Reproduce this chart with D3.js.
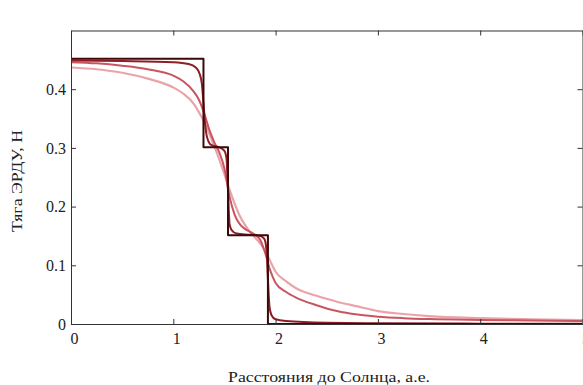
<!DOCTYPE html>
<html>
<head>
<meta charset="utf-8">
<script src="https://cdn.jsdelivr.net/npm/d3@7"></script>
<style>
  body { margin: 0; background: #fff; }
  svg { display: block; }
  text { font-family: "Liberation Serif", "Tinos", "DejaVu Serif", "Noto Serif", serif; }
</style>
</head>
<body>
<div id="chart"></div>
<script>
// data
const xTicks = [0, 1, 2, 3, 4, 5];
const yTicks = [0, 0.1, 0.2, 0.3, 0.4];

// ideal step profile
const stepX = [0, 1.295, 1.295, 1.535, 1.535, 1.925, 1.925, 5];
const stepY = [0.452, 0.452, 0.301, 0.301, 0.151, 0.151, 0.0, 0.0];

// slightly smoothed
const sharpX = [0, 0.5, 1.0, 1.15, 1.22, 1.26, 1.28, 1.295, 1.31, 1.33, 1.37, 1.45, 1.5, 1.52, 1.535, 1.55, 1.57, 1.62, 1.75, 1.85, 1.89, 1.91, 1.925, 1.94, 1.96, 2.0, 2.1, 2.5, 3.0, 4.0, 5.0];
const sharpY = [0.449, 0.448, 0.446, 0.443, 0.437, 0.425, 0.408, 0.376, 0.343, 0.318, 0.305, 0.301, 0.295, 0.282, 0.226, 0.17, 0.16, 0.154, 0.152, 0.150, 0.145, 0.128, 0.076, 0.03, 0.015, 0.008, 0.005, 0.002, 0.0012, 0.0006, 0.0004];

// smoother curves share one grid
const gridX = [0, 0.25, 0.5, 0.75, 1.0, 1.1, 1.2, 1.25, 1.3, 1.35, 1.4, 1.45, 1.5, 1.55, 1.6, 1.65, 1.7, 1.75, 1.8, 1.85, 1.9, 1.95, 2.0, 2.1, 2.2, 2.4, 2.6, 2.8, 3.0, 3.25, 3.5, 4.0, 4.5, 5.0];
const mediumY = [0.446, 0.444, 0.440, 0.434, 0.423, 0.413, 0.396, 0.382, 0.36, 0.332, 0.31, 0.292, 0.265, 0.217, 0.186, 0.170, 0.162, 0.157, 0.152, 0.143, 0.12, 0.09, 0.07, 0.055, 0.045, 0.032, 0.022, 0.016, 0.0125, 0.010, 0.0085, 0.007, 0.006, 0.005];
const softY = [0.437, 0.434, 0.428, 0.418, 0.403, 0.392, 0.375, 0.361, 0.345, 0.325, 0.303, 0.28, 0.255, 0.229, 0.205, 0.184, 0.169, 0.157, 0.147, 0.137, 0.124, 0.106, 0.089, 0.073, 0.061, 0.048, 0.038, 0.030, 0.022, 0.017, 0.0135, 0.010, 0.008, 0.0065];

const width = 583;
const height = 385;
const margin = ({top: 30.5, right: 0.5, bottom: 61, left: 71});
const fontFam = "'Liberation Serif', 'Tinos', 'DejaVu Serif', 'Noto Serif', serif";

const svg = d3.select("#chart").append("svg")
    .attr("width", width)
    .attr("height", height);

const xScale = d3.scaleLinear()
    .domain([0, 5])
    .range([margin.left, width - margin.right]);

const yScale = d3.scaleLinear()
    .domain([0, 0.5])
    .range([height - margin.bottom, margin.top]);

svg.append("clipPath").attr("id", "clip")
  .append("rect")
    .attr("x", margin.left)
    .attr("y", margin.top)
    .attr("width", xScale(5) - margin.left)
    .attr("height", yScale(0) - margin.top);

const series = [
    {x: gridX, y: softY, color: "#eba3aa", w: 2.2, curve: d3.curveMonotoneX},
    {x: gridX, y: mediumY, color: "#c95562", w: 2, curve: d3.curveMonotoneX},
    {x: sharpX, y: sharpY, color: "#8e1e26", w: 2, curve: d3.curveMonotoneX},
    {x: stepX, y: stepY, color: "#3e0808", w: 2, curve: d3.curveLinear}
];

const plot = svg.append("g").attr("clip-path", "url(#clip)");

series.forEach(s => {
    const pts = s.x.map((v, i) => [v, s.y[i]]);
    const line = d3.line()
        .x(d => xScale(d[0]))
        .y(d => yScale(d[1]))
        .curve(s.curve);
    plot.append("path")
        .attr("d", line(pts))
        .attr("fill", "none")
        .attr("stroke", s.color)
        .attr("stroke-width", s.w)
        .attr("stroke-linejoin", "round");
});

// axes, ticks pointing inward
const axisColor = "#333";
const x0 = yScale(0), y1 = xScale(5);

const xAxis = svg.append("g")
    .attr("transform", `translate(0, ${x0})`)
    .call(d3.axisBottom(xScale).tickValues(xTicks).tickFormat(d3.format("d"))
        .tickSizeInner(-5).tickSizeOuter(0).tickPadding(9));

const yAxis = svg.append("g")
    .attr("transform", `translate(${margin.left}, 0)`)
    .call(d3.axisLeft(yScale).tickValues(yTicks).tickFormat(d => d === 0 ? "0" : d3.format(".1f")(d))
        .tickSizeInner(-5).tickSizeOuter(0).tickPadding(5));

const topAxis = svg.append("g")
    .attr("transform", `translate(0, ${margin.top})`)
    .call(d3.axisTop(xScale).tickValues(xTicks).tickFormat("")
        .tickSizeInner(-5).tickSizeOuter(0));

const rightAxis = svg.append("g")
    .attr("transform", `translate(${y1}, 0)`)
    .call(d3.axisRight(yScale).tickValues(yTicks).tickFormat("")
        .tickSizeInner(-5).tickSizeOuter(0));

[xAxis, yAxis, topAxis, rightAxis].forEach(a => {
    a.attr("font-family", fontFam);
    a.select(".domain").attr("stroke", axisColor);
    a.selectAll(".tick line").attr("stroke", axisColor);
    a.selectAll("text")
        .style("font-family", fontFam)
        .attr("font-size", 16)
        .attr("fill", "#222");
});
xAxis.selectAll(".tick text").attr("dx", 3);

// axis titles
svg.append("text")
    .attr("x", 329)
    .attr("y", 382)
    .attr("text-anchor", "middle")
    .style("font-family", fontFam)
    .attr("font-size", 15)
    .attr("textLength", 202)
    .attr("lengthAdjust", "spacingAndGlyphs")
    .attr("fill", "#222")
    .text("Расстояния до Солнца, а.е.");

svg.append("text")
    .attr("transform", `translate(22, 181) rotate(-90)`)
    .attr("text-anchor", "middle")
    .style("font-family", fontFam)
    .attr("font-size", 15)
    .attr("textLength", 102)
    .attr("lengthAdjust", "spacingAndGlyphs")
    .attr("fill", "#222")
    .text("Тяга ЭРДУ, Н");
</script>
</body>
</html>
